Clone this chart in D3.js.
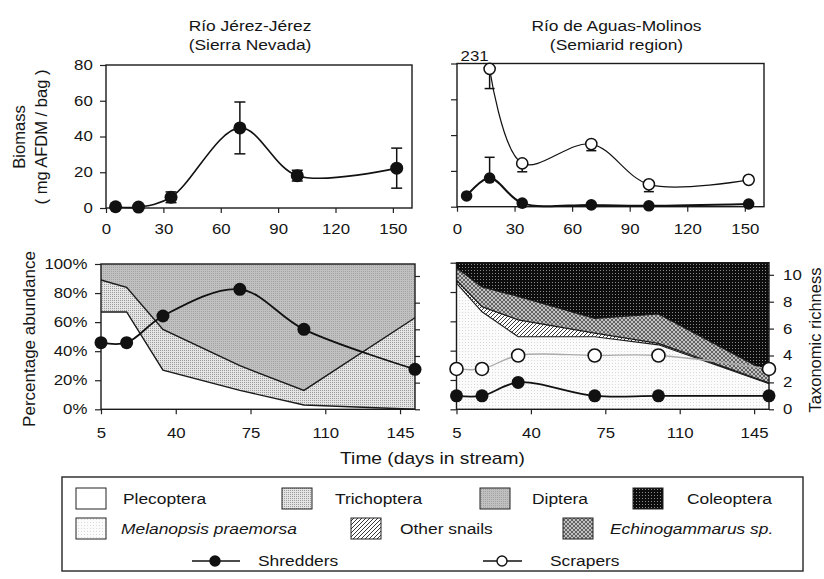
<!DOCTYPE html>
<html>
<head>
<meta charset="utf-8">
<script src="https://cdn.jsdelivr.net/npm/d3@7"></script>
<style>
  body { margin: 0; background: #fff; }
  svg { display: block; }
</style>
</head>
<body>
<svg id="chart" width="824" height="579"></svg>
<script>
// ---- sampling days (days in stream) ----
const days = [5, 17, 34, 70, 100, 152];

// ---- biomass (mg AFDM / bag) ----
const jerezShredBiomass = [0.7, 0.5, 6, 44.8, 18.1, 22.3];
const jerezShredErr     = [0, 0, 3, 14.5, 3, 11.2];

const aguasShredBiomass = [6, 16, 2, 1, 0.5, 1.5];
const aguasShredErrUp   = [0, 11.6, 0, 0, 0, 0];

const aguasScrapDays    = [17, 34, 70, 100, 152];
const aguasScrapBiomass = [231, 24.2, 35, 12.5, 15];
const aguasScrapErrDown = [11, 4.7, 3.7, 4.1, 0];
const offScaleCap = 77;   // off-scale values are drawn just under the frame top

// ---- percentage abundance, Río Jérez-Jérez ----
const jerezPlecoptera  = [67, 67, 27, 13, 3, 0];
const jerezTrichoptera = [22, 17, 28, 17, 10, 63];
const jerezDiptera     = [11, 16, 45, 70, 87, 37];

// ---- percentage abundance, Río de Aguas-Molinos ----
const aguasMelanopsis  = [86, 66.5, 49.5, 49.5, 44, 17.5];
const aguasOtherSnails = [2, 3.5, 11.5, 2.5, 1, 0.5];
const aguasEchino      = [8.5, 13.5, 16, 10, 20, 7];
const aguasColeoptera  = [3.5, 16.5, 23, 38, 35, 75];

// ---- taxonomic richness ----
const jerezShredRichness = [5, 5, 7, 9, 6, 3];
const aguasShredRichness = [1, 1, 2, 1, 1, 1];
const aguasScrapRichness = [3, 3, 4, 4, 4, 3];

// ---- tick labels ----
const biomassTicks  = [0, 20, 40, 60, 80];
const topDayTicks   = [0, 30, 60, 90, 120, 150];
const bottomDayTicks = [5, 40, 75, 110, 145];
const pctTicks      = [0, 20, 40, 60, 80, 100];
const richTicks     = [0, 2, 4, 6, 8, 10];

const FONT = '"Liberation Sans", Arial, Helvetica, sans-serif';
const SX = 1.2;          // horizontal stretch of the lettering
const INK = "#151515";

const svg = d3.select("#chart").style("font-family", FONT);

// ---- fill patterns ----
const defs = svg.append("defs");
function pat(id, w, h, build) {
  const p = defs.append("pattern").attr("id", id)
    .attr("width", w).attr("height", h).attr("patternUnits", "userSpaceOnUse");
  build(p);
}
pat("pTrich", 2, 2, p => {
  p.append("rect").attr("width", 2).attr("height", 2).attr("fill", "#e4e4e4");
  p.append("rect").attr("width", 1).attr("height", 1).attr("fill", "#9c9c9c");
});
pat("pDipt", 2, 2, p => {
  p.append("rect").attr("width", 2).attr("height", 2).attr("fill", "#c0c0c0");
  p.append("rect").attr("x", 1).attr("y", 1).attr("width", 1).attr("height", 1).attr("fill", "#a4a4a4");
});
pat("pCole", 3, 3, p => {
  p.append("rect").attr("width", 3).attr("height", 3).attr("fill", "#0d0d0d");
  p.append("rect").attr("width", 1).attr("height", 1).attr("fill", "#8a8a8a");
});
pat("pMela", 3, 3, p => {
  p.append("rect").attr("width", 3).attr("height", 3).attr("fill", "#fbfbfb");
  p.append("rect").attr("width", 1).attr("height", 1).attr("fill", "#dadada");
});
pat("pSnail", 4, 4, p => {
  p.append("rect").attr("width", 4).attr("height", 4).attr("fill", "#ffffff");
  p.append("path").attr("d", "M-1,1 L1,-1 M0,4 L4,0 M3,5 L5,3")
    .attr("stroke", "#222").attr("stroke-width", 0.9);
});
pat("pEchi", 4, 4, p => {
  p.append("rect").attr("width", 4).attr("height", 4).attr("fill", "#c2c2c2");
  p.append("path").attr("d", "M0,0 L4,4 M4,0 L0,4")
    .attr("stroke", "#4a4a4a").attr("stroke-width", 0.8);
});

// ---- scales ----
const xTopL = d3.scaleLinear().domain([0, 160]).range([106, 412]);
const yTopL = d3.scaleLinear().domain([0, 80]).range([208, 65]);
const xTopR = d3.scaleLinear().domain([0, 160]).range([457, 764]);
const yTopR = d3.scaleLinear().domain([0, 80]).range([206.7, 63.5]);

const xBotL  = d3.scaleLinear().domain([5, 152]).range([101, 415]);
const yPctL  = d3.scaleLinear().domain([0, 100]).range([409.3, 264]);
const yRichL = d3.scaleLinear().domain([0, 10.9]).range([409.3, 264]);
const xBotR  = d3.scaleLinear().domain([5, 152]).range([456.5, 769]);
const yPctR  = d3.scaleLinear().domain([0, 100]).range([409.3, 262.7]);
const yRichR = d3.scaleLinear().domain([0, 10.9]).range([409.3, 262.7]);

// ---- helpers ----
function styleAxis(g) {
  g.attr("font-family", FONT).attr("font-size", 14);
  g.select(".domain").remove();
  g.selectAll(".tick line").attr("stroke", "#222").attr("stroke-width", 1.2);
  g.selectAll(".tick text").attr("fill", INK).attr("transform", `scale(${SX},1)`);
}
function text(x, y, str, size, anchor, italic) {
  return svg.append("text")
    .attr("transform", `translate(${x},${y}) scale(${SX},1)`)
    .attr("text-anchor", anchor || "middle")
    .attr("font-size", size)
    .attr("font-style", italic ? "italic" : null)
    .attr("fill", INK)
    .text(str);
}
function vtext(x, y, str, size) {
  return svg.append("text")
    .attr("transform", `translate(${x},${y}) rotate(-90)`)
    .attr("text-anchor", "middle")
    .attr("font-size", size)
    .attr("fill", INK)
    .text(str);
}
function frame(x0, x1, y0, y1) {
  svg.append("rect")
    .attr("x", x0).attr("y", y1).attr("width", x1 - x0).attr("height", y0 - y1)
    .attr("fill", "none").attr("stroke", "#1a1a1a").attr("stroke-width", 1.4);
}
function errBar(x, yA, yB, half) {
  svg.append("line").attr("x1", x).attr("x2", x).attr("y1", yA).attr("y2", yB)
    .attr("stroke", "#111").attr("stroke-width", 1.5);
  svg.append("line").attr("x1", x - half).attr("x2", x + half).attr("y1", yB).attr("y2", yB)
    .attr("stroke", "#111").attr("stroke-width", 1.5);
}
const smooth = d3.curveCatmullRom.alpha(0.5);

// ================= titles =================
text(250, 30.5, "Río Jérez-Jérez", 14.5);
text(250, 49.5, "(Sierra Nevada)", 14.5);
text(616.5, 30.5, "Río de Aguas-Molinos", 14.5);
text(616.5, 49.5, "(Semiarid region)", 14.5);

// ================= top-left: biomass, Jérez =================
svg.append("g").attr("transform", "translate(0,208)")
  .call(d3.axisBottom(xTopL).tickValues(topDayTicks).tickSize(5).tickPadding(11))
  .call(styleAxis);
svg.append("g").attr("transform", "translate(106,0)")
  .call(d3.axisLeft(yTopL).tickValues(biomassTicks).tickSize(6).tickPadding(5))
  .call(styleAxis);
frame(106, 412, 208, 65);

svg.append("path")
  .attr("d", d3.line().curve(smooth).x((d, i) => xTopL(days[i])).y(d => yTopL(d))(jerezShredBiomass))
  .attr("fill", "none").attr("stroke", "#111").attr("stroke-width", 1.6);
jerezShredBiomass.forEach((v, i) => {
  const e = jerezShredErr[i];
  if (e > 0) {
    errBar(xTopL(days[i]), yTopL(v), yTopL(v + e), 5.5);
    errBar(xTopL(days[i]), yTopL(v), yTopL(v - e), 5.5);
  }
});
svg.append("g").selectAll("circle").data(jerezShredBiomass).join("circle")
  .attr("cx", (d, i) => xTopL(days[i])).attr("cy", d => yTopL(d))
  .attr("r", 6.5).attr("fill", "#111");

vtext(25, 137, "Biomass", 16.5);
vtext(47, 137, "( mg AFDM / bag )", 16.5);

// ================= top-right: biomass, Aguas =================
svg.append("g").attr("transform", "translate(0,206.7)")
  .call(d3.axisBottom(xTopR).tickValues(topDayTicks).tickSize(5).tickPadding(12))
  .call(styleAxis);
svg.append("g").attr("transform", "translate(457,0)")
  .call(d3.axisLeft(yTopR).tickValues(biomassTicks).tickSize(6).tickFormat(""))
  .call(styleAxis);
frame(457, 764, 206.7, 63.5);

const scrapShown = aguasScrapBiomass.map(v => Math.min(v, offScaleCap));
svg.append("path")
  .attr("d", d3.line().curve(smooth).x((d, i) => xTopR(aguasScrapDays[i])).y(d => yTopR(d))(scrapShown))
  .attr("fill", "none").attr("stroke", "#111").attr("stroke-width", 1.2);
svg.append("path")
  .attr("d", d3.line().curve(smooth).x((d, i) => xTopR(days[i])).y(d => yTopR(d))(aguasShredBiomass))
  .attr("fill", "none").attr("stroke", "#111").attr("stroke-width", 2);
scrapShown.forEach((v, i) => {
  const e = aguasScrapErrDown[i];
  if (e > 0) errBar(xTopR(aguasScrapDays[i]), yTopR(v), yTopR(v - e), 5);
});
aguasShredBiomass.forEach((v, i) => {
  const e = aguasShredErrUp[i];
  if (e > 0) errBar(xTopR(days[i]), yTopR(v), yTopR(v + e), 5);
});
svg.append("g").selectAll("circle").data(aguasShredBiomass).join("circle")
  .attr("cx", (d, i) => xTopR(days[i])).attr("cy", d => yTopR(d))
  .attr("r", 5.8).attr("fill", "#111");
svg.append("g").selectAll("circle").data(scrapShown).join("circle")
  .attr("cx", (d, i) => xTopR(aguasScrapDays[i])).attr("cy", d => yTopR(d))
  .attr("r", 5.6).attr("fill", "#fff").attr("stroke", "#111").attr("stroke-width", 1.5);
// value of the off-scale point
aguasScrapBiomass.forEach((v, i) => {
  if (v > offScaleCap) text(xTopR(aguasScrapDays[i]) - 15, 61, String(v), 14);
});

// ================= bottom-left: composition, Jérez =================
const jerezRows = days.map((d, i) => ({
  day: d, Plecoptera: jerezPlecoptera[i], Trichoptera: jerezTrichoptera[i], Diptera: jerezDiptera[i]
}));
const jerezStack = d3.stack().keys(["Plecoptera", "Trichoptera", "Diptera"])(jerezRows);
const jerezFill = { Plecoptera: "#ffffff", Trichoptera: "url(#pTrich)", Diptera: "url(#pDipt)" };
const areaL = d3.area().x(d => xBotL(d.data.day)).y0(d => yPctL(d[0])).y1(d => yPctL(d[1]));
const topL = d3.line().x(d => xBotL(d.data.day)).y(d => yPctL(d[1]));
svg.append("g").selectAll("path").data(jerezStack).join("path")
  .attr("d", areaL).attr("fill", s => jerezFill[s.key]);
svg.append("g").selectAll("path").data(jerezStack.slice(0, 2)).join("path")
  .attr("d", topL).attr("fill", "none").attr("stroke", "#1a1a1a").attr("stroke-width", 1.4);

svg.append("g").attr("transform", "translate(0,409.3)")
  .call(d3.axisBottom(xBotL).tickValues(bottomDayTicks).tickSize(5).tickPadding(13.5))
  .call(styleAxis);
svg.append("g").attr("transform", "translate(101,0)")
  .call(d3.axisLeft(yPctL).tickValues(pctTicks).tickSize(6).tickPadding(5.4).tickFormat(d => d + "%"))
  .call(styleAxis);
svg.append("g").attr("transform", "translate(415,0)")
  .call(d3.axisRight(yRichL).tickValues(richTicks).tickSize(5).tickFormat(""))
  .call(styleAxis);
frame(101, 415, 409.3, 264);

svg.append("path")
  .attr("d", d3.line().curve(smooth).x((d, i) => xBotL(days[i])).y(d => yRichL(d))(jerezShredRichness))
  .attr("fill", "none").attr("stroke", "#111").attr("stroke-width", 1.8);
svg.append("g").selectAll("circle").data(jerezShredRichness).join("circle")
  .attr("cx", (d, i) => xBotL(days[i])).attr("cy", d => yRichL(d))
  .attr("r", 6.5).attr("fill", "#111");

vtext(35, 339, "Percentage abundance", 17);

// ================= bottom-right: composition, Aguas =================
const aguasRows = days.map((d, i) => ({
  day: d, Melanopsis: aguasMelanopsis[i], Snails: aguasOtherSnails[i],
  Echino: aguasEchino[i], Coleoptera: aguasColeoptera[i]
}));
const aguasStack = d3.stack().keys(["Melanopsis", "Snails", "Echino", "Coleoptera"])(aguasRows);
const aguasFill = { Melanopsis: "url(#pMela)", Snails: "url(#pSnail)", Echino: "url(#pEchi)", Coleoptera: "url(#pCole)" };
const areaR = d3.area().x(d => xBotR(d.data.day)).y0(d => yPctR(d[0])).y1(d => yPctR(d[1]));
const topR = d3.line().x(d => xBotR(d.data.day)).y(d => yPctR(d[1]));
svg.append("g").selectAll("path").data(aguasStack).join("path")
  .attr("d", areaR).attr("fill", s => aguasFill[s.key]);
svg.append("g").selectAll("path").data(aguasStack.slice(0, 3)).join("path")
  .attr("d", topR).attr("fill", "none").attr("stroke", "#1a1a1a").attr("stroke-width", 1.2);

svg.append("g").attr("transform", "translate(0,409.3)")
  .call(d3.axisBottom(xBotR).tickValues(bottomDayTicks).tickSize(5).tickPadding(13.5))
  .call(styleAxis);
svg.append("g").attr("transform", "translate(456.5,0)")
  .call(d3.axisLeft(yPctR).tickValues(pctTicks).tickSize(6).tickFormat(""))
  .call(styleAxis);
svg.append("g").attr("transform", "translate(769,0)")
  .call(d3.axisRight(yRichR).tickValues(richTicks).tickSize(5).tickPadding(6.7))
  .call(styleAxis);
frame(456.5, 769, 409.3, 262.7);

svg.append("path")
  .attr("d", d3.line().curve(smooth).x((d, i) => xBotR(days[i])).y(d => yRichR(d))(aguasScrapRichness))
  .attr("fill", "none").attr("stroke", "#aaaaaa").attr("stroke-width", 1.3);
svg.append("path")
  .attr("d", d3.line().curve(smooth).x((d, i) => xBotR(days[i])).y(d => yRichR(d))(aguasShredRichness))
  .attr("fill", "none").attr("stroke", "#111").attr("stroke-width", 1.8);
svg.append("g").selectAll("circle").data(aguasScrapRichness).join("circle")
  .attr("cx", (d, i) => xBotR(days[i])).attr("cy", d => yRichR(d))
  .attr("r", 6.5).attr("fill", "#fff").attr("stroke", "#111").attr("stroke-width", 1.6);
svg.append("g").selectAll("circle").data(aguasShredRichness).join("circle")
  .attr("cx", (d, i) => xBotR(days[i])).attr("cy", d => yRichR(d))
  .attr("r", 6.5).attr("fill", "#111");

vtext(821, 340, "Taxonomic richness", 16.5);
text(432.5, 464, "Time (days in stream)", 16);

// ================= legend =================
svg.append("rect").attr("x", 62).attr("y", 477).attr("width", 741).attr("height", 94)
  .attr("fill", "#fff").attr("stroke", "#333").attr("stroke-width", 1.5);

const legendSwatches = [
  { name: "Plecoptera", fill: "#ffffff", sx: 76, tx: 123, row: 0 },
  { name: "Trichoptera", fill: "url(#pTrich)", sx: 282, tx: 335, row: 0 },
  { name: "Diptera", fill: "url(#pDipt)", sx: 480, tx: 532, row: 0 },
  { name: "Coleoptera", fill: "url(#pCole)", sx: 633, tx: 687, row: 0 },
  { name: "Melanopsis praemorsa", fill: "url(#pMela)", sx: 76, tx: 121, row: 1, italic: true },
  { name: "Other snails", fill: "url(#pSnail)", sx: 351, tx: 400, row: 1 },
  { name: "Echinogammarus sp.", fill: "url(#pEchi)", sx: 563, tx: 610, row: 1, italic: true }
];
const rowTop = [488, 518];
const rowBase = [504, 534];
legendSwatches.forEach(s => {
  svg.append("rect").attr("x", s.sx).attr("y", rowTop[s.row]).attr("width", 30).attr("height", 21)
    .attr("fill", s.fill).attr("stroke", "#222").attr("stroke-width", 1);
  text(s.tx, rowBase[s.row], s.name, 14.5, "start", s.italic);
});
const legendLines = [
  { name: "Shredders", x0: 192, x1: 240, cx: 215, tx: 258, filled: true },
  { name: "Scrapers", x0: 483, x1: 522, cx: 502, tx: 550, filled: false }
];
legendLines.forEach(s => {
  svg.append("line").attr("x1", s.x0).attr("x2", s.x1).attr("y1", 561).attr("y2", 561)
    .attr("stroke", "#111").attr("stroke-width", 1.6);
  svg.append("circle").attr("cx", s.cx).attr("cy", 561).attr("r", 5)
    .attr("fill", s.filled ? "#111" : "#fff").attr("stroke", "#111").attr("stroke-width", 1.4);
  text(s.tx, 566, s.name, 14.5, "start");
});
</script>
</body>
</html>
